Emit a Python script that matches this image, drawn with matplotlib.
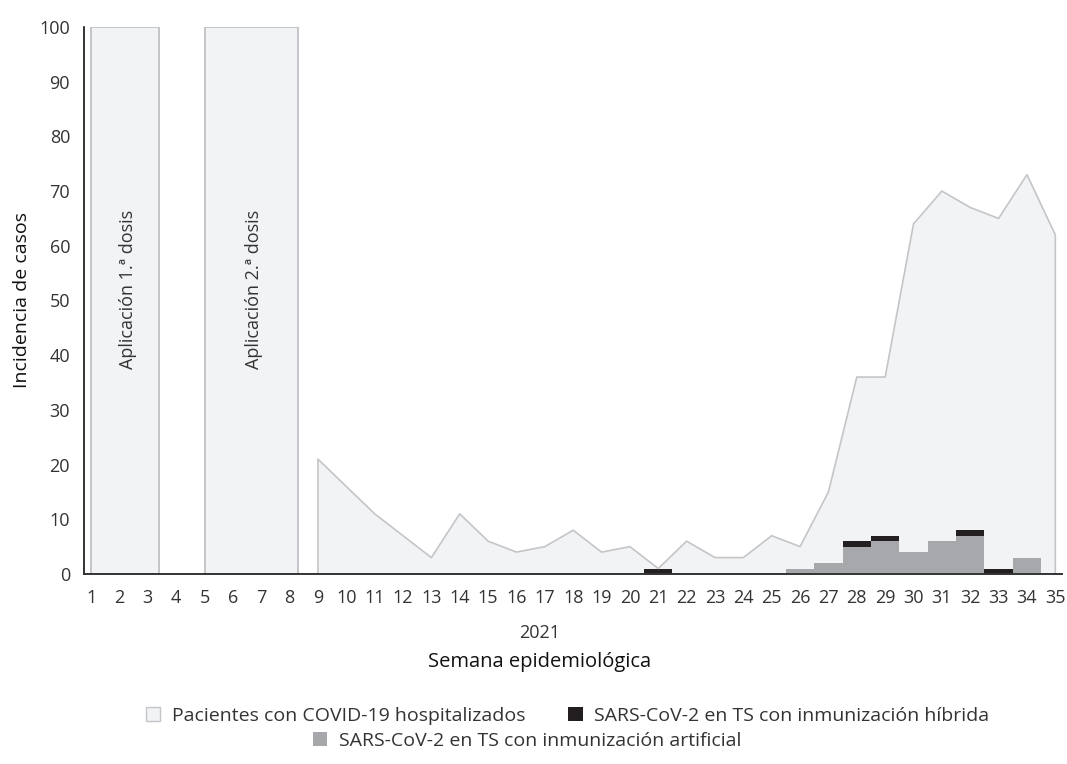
import matplotlib.pyplot as plt
from matplotlib.patches import Patch

plt.rcParams['font.family'] = ['Open Sans', 'DejaVu Sans']

# semanas epidemiologicas 2021
semanas = list(range(1, 36))

# pacientes hospitalizados (semana 9 a 35)
sem_hosp = list(range(9, 36))
hospitalizados = [21, 16, 11, 7, 3, 11, 6, 4, 5, 8, 4, 5, 1, 6, 3, 3, 7, 5,
                  15, 36, 36, 64, 70, 67, 65, 73, 62]

# periodos de vacunacion (inicio, fin)
aplicaciones = [(1, 3.4), (5, 8.3)]
etiquetas_aplic = ['Aplicación 1.ª dosis', 'Aplicación 2.ª dosis']

# trabajadores de salud con SARS-CoV-2
sem_ts = [21, 26, 27, 28, 29, 30, 31, 32, 33, 34]
artificial = [0, 1, 2, 5, 6, 4, 6, 7, 0, 3]
hibrida = [1, 0, 0, 1, 1, 0, 0, 1, 1, 0]

c_area = '#f2f3f5'
c_edge = '#c4c5c8'
c_gris = '#a7a8ab'
c_negro = '#231f20'
c_txt = '#333333'

fig = plt.figure(figsize=(10.67, 7.64), dpi=100)
ax = fig.add_axes([0.0787, 0.2487, 0.917, 0.716])

for (a, b), lab in zip(aplicaciones, etiquetas_aplic):
    ax.fill_between([a, b], [100, 100], color=c_area, edgecolor=c_edge, lw=1.2)
    ax.plot([a, a, b, b], [0, 100, 100, 0], color=c_edge, lw=1.2)
    ax.text((a + b) / 2 + 0.1, 52, lab, rotation=90, ha='center', va='center',
            fontsize=13, color=c_txt)

ax.fill_between(sem_hosp, hospitalizados, color=c_area, lw=0)
ax.plot([sem_hosp[0]] + sem_hosp + [sem_hosp[-1]], [0] + hospitalizados + [0],
        color=c_edge, lw=1.2)

ax.bar(sem_ts, artificial, width=1.0, color=c_gris, lw=0)
ax.bar(sem_ts, hibrida, width=1.0, bottom=artificial, color=c_negro, lw=0)

ax.set_xlim(0.75, 35.25)
ax.set_ylim(0, 100)
ax.set_xticks(semanas)
ax.set_yticks(range(0, 101, 10))
ax.tick_params(length=0, labelsize=13, colors=c_txt)
ax.tick_params(axis='x', pad=11)
ax.tick_params(axis='y', pad=10)
for s in ['top', 'right']:
    ax.spines[s].set_visible(False)
ax.spines['left'].set_color('#111111')
ax.spines['bottom'].set_color('#333333')
ax.spines['left'].set_linewidth(1.2)
ax.spines['bottom'].set_linewidth(1.4)

ax.set_ylabel('Incidencia de casos', fontsize=14, color='#111111', labelpad=6)
fig.text(0.506, 0.172, '2021', ha='center', va='center', fontsize=13, color=c_txt)
fig.text(0.506, 0.134, 'Semana epidemiológica', ha='center', va='center',
         fontsize=14.5, color='#111111')

h1 = Patch(facecolor=c_area, edgecolor=c_edge, label='Pacientes con COVID-19 hospitalizados')
h2 = Patch(facecolor=c_negro, label='SARS-CoV-2 en TS con inmunización híbrida')
h3 = Patch(facecolor=c_gris, label='SARS-CoV-2 en TS con inmunización artificial')
leg1 = fig.legend(handles=[h1, h2], loc='center', bbox_to_anchor=(0.532, 0.063),
                  ncol=2, frameon=False, fontsize=14, handlelength=0.75,
                  handleheight=0.75, handletextpad=0.6, columnspacing=2.2)
leg2 = fig.legend(handles=[h3], loc='center', bbox_to_anchor=(0.494, 0.03),
                  frameon=False, fontsize=14, handlelength=0.75,
                  handleheight=0.75, handletextpad=0.6)
for leg in (leg1, leg2):
    for t in leg.get_texts():
        t.set_color(c_txt)

fig.savefig('out.png', dpi=100)
